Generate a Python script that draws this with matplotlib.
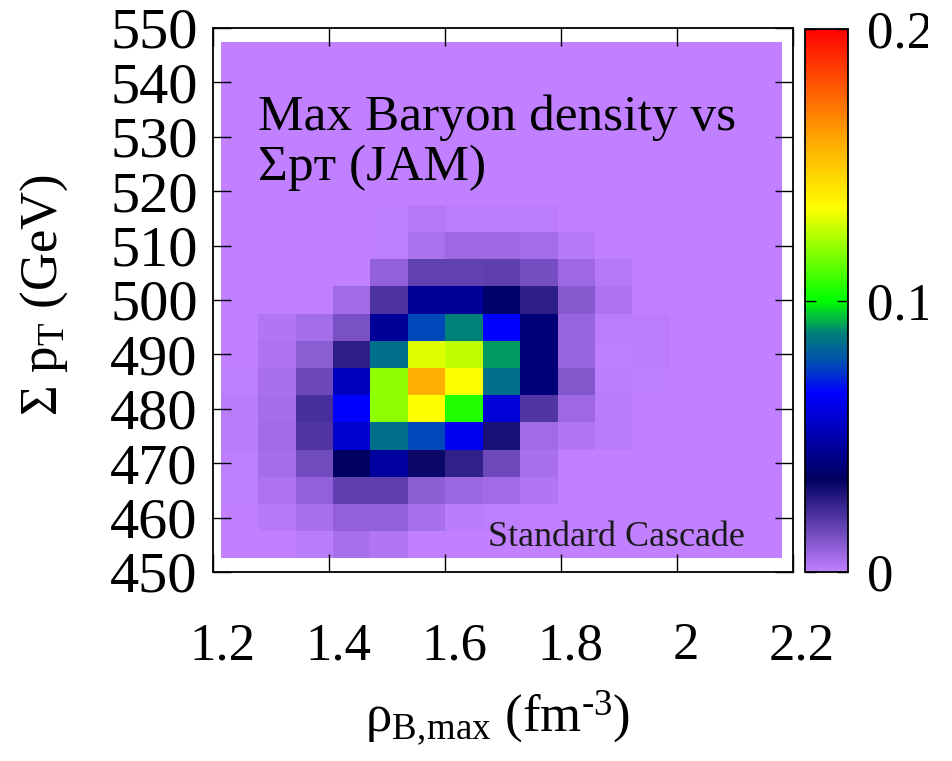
import numpy as np
import matplotlib
matplotlib.use("Agg")
import matplotlib.pyplot as plt
from matplotlib.colors import LinearSegmentedColormap
from matplotlib.transforms import ScaledTranslation, Bbox, TransformedBbox

plt.rcParams['font.family'] = ['Liberation Serif', 'DejaVu Serif']
plt.rcParams['mathtext.fontset'] = 'custom'
plt.rcParams['mathtext.rm'] = 'Liberation Serif'
plt.rcParams['mathtext.it'] = 'Liberation Serif:italic'

# ---- data ----
rho_edges = [1.2135, 1.278, 1.3425, 1.407, 1.4715, 1.536, 1.6005, 1.665,
             1.7295, 1.794, 1.8585, 1.923, 1.9875, 2.052, 2.1165, 2.181]
pt_edges = [452.5, 457.5, 462.5, 467.5, 472.5, 477.5, 482.5, 487.5, 492.5,
            497.5, 502.5, 507.5, 512.5, 517.5, 522.5, 527.5, 532.5, 537.5,
            542.5, 547.5]
# rows: pT = 455 ... 545 (bottom to top), columns: rho bins left to right
row_455 = [0, 0.0003, 0.0014, 0.0043, 0.0028, 0.0003, 0, 0, 0, 0, 0, 0, 0, 0, 0]
row_460 = [0.0003, 0.0018, 0.0046, 0.0085, 0.0085, 0.0043, 0.0014, 0.0007, 0.0003, 0, 0, 0, 0, 0, 0]
row_465 = [0.0005, 0.0032, 0.0085, 0.0174, 0.0174, 0.0096, 0.0067, 0.0057, 0.0028, 0, 0, 0, 0, 0, 0]
row_470 = [0.0007, 0.005, 0.0142, 0.034, 0.0468, 0.0323, 0.0255, 0.0147, 0.0043, 0.0003, 0, 0, 0, 0, 0]
row_475 = [0.0014, 0.0057, 0.0198, 0.0565, 0.0846, 0.076, 0.063, 0.0294, 0.0057, 0.003, 0.0014, 0, 0, 0, 0]
row_480 = [0.0012, 0.005, 0.0216, 0.066, 0.119, 0.134, 0.104, 0.058, 0.0198, 0.0064, 0.0014, 0.0003, 0, 0, 0]
row_485 = [0.0007, 0.0043, 0.0152, 0.0532, 0.119, 0.157, 0.134, 0.0846, 0.0388, 0.0113, 0.0011, 0.0007, 0, 0, 0]
row_490 = [0.0003, 0.0035, 0.0096, 0.0258, 0.0846, 0.1296, 0.1255, 0.0903, 0.0388, 0.0074, 0.0007, 0.0011, 0, 0, 0]
row_495 = [0, 0.0028, 0.005, 0.0128, 0.0456, 0.076, 0.088, 0.066, 0.0388, 0.0074, 0.0011, 0.0011, 0.0003, 0, 0]
row_500 = [0, 0, 0, 0.0057, 0.0209, 0.0456, 0.0456, 0.036, 0.0258, 0.0105, 0.0032, 0.0003, 0, 0, 0]
row_505 = [0, 0, 0, 0, 0.0085, 0.017, 0.017, 0.0174, 0.0135, 0.0064, 0.0021, 0, 0, 0, 0]
row_510 = [0, 0, 0, 0, 0.0007, 0.0041, 0.0064, 0.0064, 0.005, 0.0021, 0, 0, 0, 0, 0]
row_515 = [0, 0, 0, 0, 0.0007, 0.0021, 0.0011, 0.0011, 0.0009, 0, 0, 0, 0, 0, 0]
row_520 = [0] * 15
row_525 = [0] * 15
row_530 = [0] * 15
row_535 = [0] * 15
row_540 = [0] * 15
row_545 = [0] * 15

Z = np.array([row_455, row_460, row_465, row_470, row_475, row_480, row_485,
              row_490, row_495, row_500, row_505, row_510, row_515, row_520,
              row_525, row_530, row_535, row_540, row_545])

x_ticks = [1.2, 1.4, 1.6, 1.8, 2.0, 2.2]
x_ticklabels = ['1.2', '1.4', '1.6', '1.8', '2', '2.2']
y_ticks = [450, 460, 470, 480, 490, 500, 510, 520, 530, 540, 550]
cb_ticks = [0, 0.1, 0.2]
cb_ticklabels = ['0', '0.1', '0.2']

# ---- colormap (gnuplot-like palette) ----
stops = [
    (0.00, (192/255, 128/255, 1.0)),
    (0.17, (0.0, 0.0, 96/255)),
    (0.25, (0.0, 0.0, 176/255)),
    (0.33, (0.0, 0.0, 1.0)),
    (0.38, (0.0, 72/255, 184/255)),
    (0.44, (0.0, 128/255, 120/255)),
    (0.50, (0.0, 1.0, 0.0)),
    (0.67, (1.0, 1.0, 0.0)),
    (0.80, (1.0, 165/255, 0.0)),
    (1.00, (1.0, 0.0, 0.0)),
]
cmap = LinearSegmentedColormap.from_list('gp', stops, N=512)

XS = 38  # x tick label size
YS = 42  # y tick label size

fig = plt.figure(figsize=(9.52, 7.61), dpi=100)
ax = fig.add_axes([213/952, 1-572/761, 580/952, 544/761])
cax = fig.add_axes([805/952, 1-572/761, 43/952, 543/761])

mesh = ax.pcolormesh(rho_edges, pt_edges, Z, cmap=cmap, vmin=0, vmax=0.2,
                     shading='flat', edgecolors='none', linewidth=0,
                     antialiased=False, zorder=1)
ax.set_xlim(1.2, 2.2)
ax.set_ylim(450, 550)
ax.set_xticks(x_ticks)
ax.set_xticklabels(x_ticklabels)
ax.set_yticks(y_ticks)
ax.tick_params(direction='in', length=13, width=1.0, top=True, right=True,
               colors='black')
ax.tick_params(axis='x', pad=36, labelsize=XS)
ax.tick_params(axis='y', pad=11, labelsize=YS)
shift = ScaledTranslation(9/100, 0, fig.dpi_scale_trans)
for lbl in ax.get_xticklabels():
    lbl.set_transform(lbl.get_transform() + shift)
for s in ax.spines.values():
    s.set_linewidth(1.3)
    s.set_zorder(5)
ax.set_axisbelow(False)

ax.set_xlabel('ρ$_{\\mathrm{B,\\!max}}$ (fm$^{\\mathrm{\u2010}3}$)', fontsize=XS)
ax.xaxis.set_label_coords(0.49, -0.213)
ax.set_ylabel('Σ p$_{\\mathrm{T}}$ (GeV)', fontsize=XS)
ax.yaxis.set_label_coords(-0.247, 0.51)

ax.text(0.0776, 0.8125, 'Max Baryon density vs', transform=ax.transAxes,
        fontsize=37, ha='left', va='baseline', zorder=6)
ax.text(0.0776, 0.7206, 'Σpᴛ (JAM)', transform=ax.transAxes,
        fontsize=37, ha='left', va='baseline', zorder=6)
ax.text(0.917, 0.048, 'Standard Cascade', transform=ax.transAxes,
        fontsize=26, ha='right', va='baseline', color='#1a1a1a', zorder=6)

cb = fig.colorbar(mesh, cax=cax)
cb.set_ticks(cb_ticks)
cb.set_ticklabels(cb_ticklabels)
cb.outline.set_linewidth(1.3)
cax.tick_params(direction='in', length=8, width=1.0, labelsize=XS, pad=14,
                left=True, right=True)
clip = TransformedBbox(Bbox([[0, 0], [928/952, 1]]), fig.transFigure)
for lbl in cax.get_yticklabels():
    lbl.set_clip_on(True)
    lbl.set_clip_box(clip)

fig.savefig('out.png', dpi=100)
